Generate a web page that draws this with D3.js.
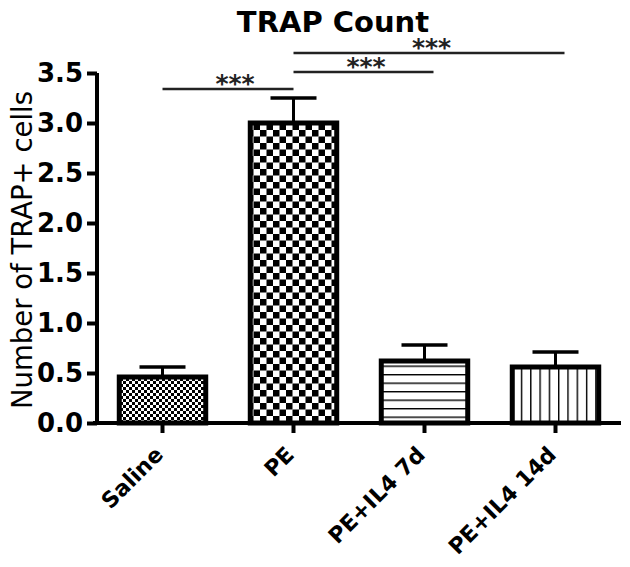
<!DOCTYPE html>
<html>
<head>
<meta charset="utf-8">
<script src="https://cdn.jsdelivr.net/npm/d3@7"></script>
<style>
  body { margin: 0; background: #fff; }
  svg { display: block; font-family: "DejaVu Sans", "Liberation Sans", Arial, sans-serif; }
</style>
</head>
<body>
<div id="chart"></div>
<script>
// bar chart values
const categories = ['Saline', 'PE', 'PE+IL4 7d', 'PE+IL4 14d'];
const means = [0.46, 3.0, 0.62, 0.56];
const sems = [0.10, 0.25, 0.16, 0.15];
const patterns = ['fineCheck', 'bigCheck', 'hLines', 'vLines'];
const yTicks = [0, 0.5, 1.0, 1.5, 2.0, 2.5, 3.0, 3.5];
// significance brackets: from, to, level in y units, label
const sigFrom = [0, 1, 1];
const sigTo = [1, 2, 3];
const sigLevel = [3.34, 3.51, 3.70];
const sigLabel = ['***', '***', '***'];

const width = 630;
const height = 567;
const margin = {top: 73, right: 9, bottom: 144, left: 97};
const FONT = '"DejaVu Sans", "Liberation Sans", Arial, sans-serif';

const svg = d3.select('#chart')
    .append('svg')
    .attr('width', width)
    .attr('height', height);

// patterns for the bar fills
const defs = svg.append('defs');

const p1 = defs.append('pattern').attr('id', 'fineCheck')
    .attr('patternUnits', 'userSpaceOnUse').attr('width', 6).attr('height', 6);
p1.append('rect').attr('width', 6).attr('height', 6).attr('fill', '#fff');
p1.append('rect').attr('width', 3).attr('height', 3).attr('fill', '#000');
p1.append('rect').attr('x', 3).attr('y', 3).attr('width', 3).attr('height', 3).attr('fill', '#000');

const p2 = defs.append('pattern').attr('id', 'bigCheck')
    .attr('patternUnits', 'userSpaceOnUse').attr('width', 13).attr('height', 13);
p2.append('rect').attr('width', 13).attr('height', 13).attr('fill', '#fff');
p2.append('rect').attr('width', 6.5).attr('height', 6.5).attr('fill', '#000');
p2.append('rect').attr('x', 6.5).attr('y', 6.5).attr('width', 6.5).attr('height', 6.5).attr('fill', '#000');

const p3 = defs.append('pattern').attr('id', 'hLines')
    .attr('patternUnits', 'userSpaceOnUse').attr('width', 8.5).attr('height', 8.5);
p3.append('rect').attr('width', 8.5).attr('height', 8.5).attr('fill', '#fff');
p3.append('rect').attr('y', 0).attr('width', 8.5).attr('height', 1.4).attr('fill', '#000');

const p4 = defs.append('pattern').attr('id', 'vLines')
    .attr('patternUnits', 'userSpaceOnUse').attr('width', 9.3).attr('height', 9.3);
p4.append('rect').attr('width', 9.3).attr('height', 9.3).attr('fill', '#fff');
p4.append('rect').attr('x', 0).attr('width', 1.4).attr('height', 9.3).attr('fill', '#000');

const xScale = d3.scaleBand()
    .domain(categories)
    .range([margin.left, width - margin.right])
    .paddingInner(0.34)
    .paddingOuter(0.17);

const yScale = d3.scaleLinear()
    .domain([0, 3.5])
    .range([height - margin.bottom, margin.top]);

const rows = categories.map((c, i) => ({cat: c, mean: means[i], sem: sems[i], pat: patterns[i]}));

// error bars (upper only)
const err = svg.append('g').attr('class', 'errors');
err.selectAll('line.stem')
    .data(rows)
    .join('line')
    .attr('class', 'stem')
    .attr('x1', d => xScale(d.cat) + xScale.bandwidth() / 2)
    .attr('x2', d => xScale(d.cat) + xScale.bandwidth() / 2)
    .attr('y1', d => yScale(d.mean))
    .attr('y2', d => yScale(d.mean + d.sem))
    .attr('stroke', '#000')
    .attr('stroke-width', 3);
err.selectAll('line.cap')
    .data(rows)
    .join('line')
    .attr('class', 'cap')
    .attr('x1', d => xScale(d.cat) + xScale.bandwidth() / 2 - 23)
    .attr('x2', d => xScale(d.cat) + xScale.bandwidth() / 2 + 23)
    .attr('y1', d => yScale(d.mean + d.sem))
    .attr('y2', d => yScale(d.mean + d.sem))
    .attr('stroke', '#000')
    .attr('stroke-width', 3.5);

// bars
svg.append('g').attr('class', 'bars')
    .selectAll('rect')
    .data(rows)
    .join('rect')
    .attr('x', d => xScale(d.cat))
    .attr('y', d => yScale(d.mean))
    .attr('width', xScale.bandwidth())
    .attr('height', d => yScale(0) - yScale(d.mean))
    .attr('fill', d => `url(#${d.pat})`)
    .attr('stroke', '#000')
    .attr('stroke-width', 5);

// axes
const yAxis = svg.append('g')
    .attr('transform', `translate(${margin.left},0)`)
    .call(d3.axisLeft(yScale).tickValues(yTicks).tickFormat(d3.format('.1f')).tickSize(10).tickPadding(4))
    .attr('font-family', FONT);
yAxis.select('.domain').attr('stroke-width', 4).attr('d', `M0,${yScale(3.5)}V${yScale(0)}`);
yAxis.selectAll('.tick line').attr('stroke-width', 4);
yAxis.selectAll('.tick text')
    .attr('font-size', 26)
    .attr('font-weight', 'bold')
    .attr('fill', '#000');

const xAxis = svg.append('g')
    .attr('transform', `translate(0,${yScale(0)})`)
    .call(d3.axisBottom(xScale).tickSize(10).tickFormat(''))
    .attr('font-family', FONT);
xAxis.select('.domain').attr('stroke-width', 4).attr('d', `M${margin.left - 4},0H${width - margin.right}`);
xAxis.selectAll('.tick line').attr('stroke-width', 4);
xAxis.selectAll('.tick').append('text')
    .attr('x', 0)
    .attr('y', 0)
    .attr('transform', 'translate(2,33) rotate(-45)')
    .attr('text-anchor', 'end')
    .attr('font-size', 22)
    .attr('font-weight', 'bold')
    .attr('fill', '#000')
    .text(d => d);

// significance brackets
const sig = svg.append('g').attr('class', 'sig');
const cx = i => xScale(categories[i]) + xScale.bandwidth() / 2;
sigFrom.forEach((f, i) => {
    sig.append('line')
        .attr('x1', cx(f))
        .attr('x2', cx(sigTo[i]) + (sigTo[i] > 1 ? 9 : 0))
        .attr('y1', yScale(sigLevel[i]))
        .attr('y2', yScale(sigLevel[i]))
        .attr('stroke', '#222')
        .attr('stroke-width', 2.4);
    sig.append('text')
        .attr('x', (cx(f) + cx(sigTo[i])) / 2 + 7)
        .attr('y', yScale(sigLevel[i]) + 3)
        .attr('text-anchor', 'middle')
        .attr('font-size', 25)
        .attr('font-weight', 'bold')
        .attr('fill', '#222')
        .text(sigLabel[i]);
});

// title
svg.append('text')
    .attr('x', 333)
    .attr('y', 32)
    .attr('text-anchor', 'middle')
    .attr('font-size', 29)
    .attr('font-weight', 'bold')
    .text('TRAP Count');

// y label
svg.append('text')
    .attr('transform', `translate(32,${(yScale(0) + yScale(3.5)) / 2 + 2}) rotate(-90)`)
    .attr('text-anchor', 'middle')
    .attr('font-size', 27.5)
    .text('Number of TRAP+ cells');
</script>
</body>
</html>
